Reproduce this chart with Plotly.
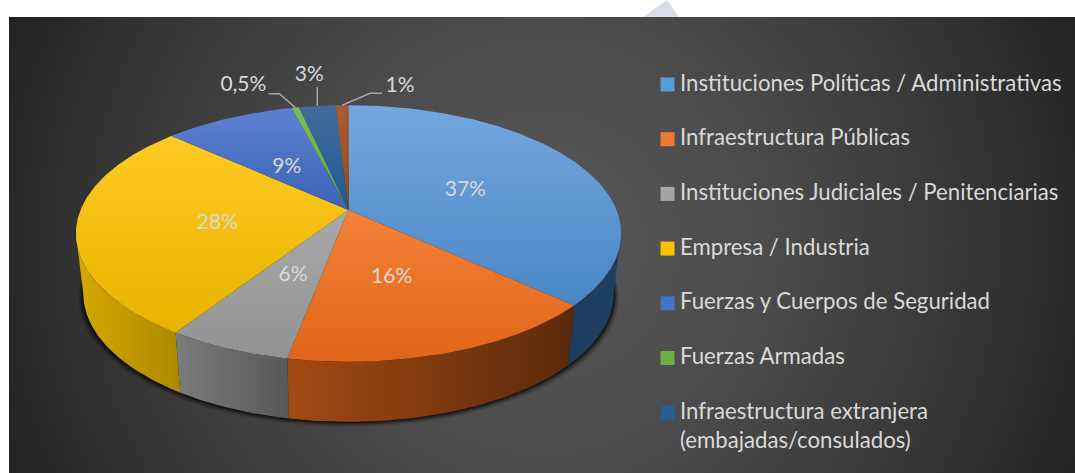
import numpy as np
import plotly.graph_objects as go

categories = ["Instituciones Políticas / Administrativas", "Infraestructura Públicas",
              "Instituciones Judiciales / Penitenciarias", "Empresa / Industria",
              "Fuerzas y Cuerpos de Seguridad", "Fuerzas Armadas",
              "Infraestructura extranjera<br>(embajadas/consulados)"]
values = [36.8, 16.2, 6.2, 27.5, 9.3, 0.5, 2.6, 0.9]
value_labels = ["37%", "16%", "6%", "28%", "9%", "0,5%", "3%", "1%"]

top_colors = [("#74a7de", "#4a87c6"), ("#f58238", "#df6518"), ("#a9a9a9", "#929292"),
              ("#ffca22", "#e6b400"), ("#5d80d2", "#3a63b6"), ("#7dbb57", "#69a83f"),
              ("#436c9c", "#1c5a94"), ("#a65c3c", "#9c470d")]
side_colors = [("#1d3d5e", "#1f3f60"), ("#a34a12", "#5a2a0c"), ("#7c7c7c", "#585858"),
               ("#d6a900", "#ab8800")]
swatch_colors = ["#5b9bd5", "#ed7d31", "#a5a5a5", "#ffc000", "#4472c4", "#70ad47", "#255e91"]

# projected pie geometry (pixels in the 1075x473 frame)
CX, APEX_Y, RX, RY, K, DEPTH, BOTTOM_SCALE = 348.5, 210.0, 268.0, 124.0, 0.183, 60.0, 0.973


def project(theta):
    """theta: clockwise radians from the back of the pie."""
    u, v = np.sin(theta), np.cos(theta)
    s = 1 / (1 + K * v)
    return CX + RX * u * s, APEX_Y - RY * v * s


def project_bottom(theta, grow=0.0):
    x, y = project(theta)
    return CX + (x - CX) * (BOTTOM_SCALE + grow / 270), y + DEPTH + grow


total = sum(values)
edges = np.cumsum([0] + values) / total * 2 * np.pi
mids = (edges[:-1] + edges[1:]) / 2

fig = go.Figure()

# page background: dark radial wash
gx = np.arange(12, 1082, 6)
gy = np.arange(20, 482, 6)
xx, yy = np.meshgrid(gx, gy)
fig.add_trace(go.Heatmap(x=gx, y=gy, z=np.hypot(xx - 542, yy - 245), zsmooth="best", zmin=0, zmax=590,
                         colorscale=[[0, "#595959"], [0.4, "#4a4a4a"], [0.7, "#383838"], [1, "#212121"]],
                         showscale=False, hoverinfo="skip"))
# faint shape poking out above the panel
fig.add_trace(go.Scatter(x=[643, 667, 679, 643], y=[17, 0, 17, 17], fill="toself", mode="none",
                         fillcolor="#dadde9", hoverinfo="skip", showlegend=False))

# drop shadow under the body
tt = np.linspace(0, 2 * np.pi, 240)
for grow, alpha in [(5, 0.12), (3.5, 0.2), (2.2, 0.3), (1.0, 0.4)]:
    sx, sy = project_bottom(tt, grow)
    fig.add_trace(go.Scatter(x=sx, y=sy, fill="toself", mode="none", fillcolor=f"rgba(0,0,0,{alpha})",
                             hoverinfo="skip", showlegend=False))

# visible outer wall of each front slice
vis_lo, vis_hi = np.pi - np.arccos(K), np.pi + np.arccos(K)
for i, cols in enumerate(side_colors):
    a, b = max(edges[i], vis_lo), min(edges[i + 1], vis_hi)
    t = np.linspace(a, b, 80)
    x1, y1 = project(t)
    x2, y2 = project_bottom(t[::-1])
    xs = np.r_[x1, x2, x1[0]]
    ys = np.r_[y1, y2, y1[0]]
    fig.add_trace(go.Scatter(x=xs, y=ys, fill="toself", mode="lines", line=dict(width=0),
                             fillgradient=dict(type="horizontal", colorscale=[[0, cols[0]], [1, cols[1]]]),
                             hoverinfo="skip", showlegend=False))

# top faces (the y axis runs downward, so the gradient's first stop is the lower edge)
for i, cols in enumerate(top_colors):
    t = np.linspace(edges[i], edges[i + 1], max(6, int(values[i] * 8)))
    x, y = project(t)
    xs = np.r_[CX, x, CX]
    ys = np.r_[APEX_Y, y, APEX_Y]
    fig.add_trace(go.Scatter(x=xs, y=ys, fill="toself", mode="lines", line=dict(width=0),
                             fillgradient=dict(type="vertical", colorscale=[[0, cols[1]], [1, cols[0]]]),
                             hovertext=value_labels[i], hoverinfo="text", showlegend=False))

# inside labels: fraction of the radius along the mid-angle, plus a small nudge
label_font = dict(family="Lato, Carlito, sans-serif", size=21, color="#d9d9d9")
inner_place = {0: (0.52, -6, 6), 1: (0.50, -3, 3), 2: (0.53, 3, -1), 3: (0.48, -2, 6), 4: (0.42, -7, 0)}
for i, (r, nx, ny) in inner_place.items():
    t = mids[i]
    u, v = np.sin(t) * r, np.cos(t) * r
    s = 1 / (1 + K * v)
    fig.add_trace(go.Scatter(x=[CX + RX * u * s + nx], y=[APEX_Y - RY * v * s + ny], mode="text",
                             text=[value_labels[i]], textposition="middle center", textfont=label_font,
                             hoverinfo="skip", showlegend=False))

# outside labels with leader lines: elbow, line end and label offsets from the rim point
outer = {5: ((-16, -14), (-27, -14), (-52, -22)),
         6: ((0, -19), (0, -19), (-8, -30)),
         7: ((28, -12), (40, -12), (58, -18))}
for i, (elbow, end, lab) in outer.items():
    rx0, ry0 = project(mids[i])
    fig.add_trace(go.Scatter(x=[rx0, rx0 + elbow[0], rx0 + end[0]], y=[ry0, ry0 + elbow[1], ry0 + end[1]],
                             mode="lines", line=dict(color="#a6a6a6", width=1.5),
                             hoverinfo="skip", showlegend=False))
    fig.add_trace(go.Scatter(x=[rx0 + lab[0]], y=[ry0 + lab[1]], mode="text", text=[value_labels[i]],
                             textposition="middle center", textfont=label_font,
                             hoverinfo="skip", showlegend=False))

# legend column
for i, name in enumerate(categories):
    ly = 84.5 + 54.7 * i
    fig.add_trace(go.Scatter(x=[667.5], y=[ly], mode="markers",
                             marker=dict(symbol="square", size=14, color=swatch_colors[i], line=dict(width=0)),
                             hoverinfo="skip", showlegend=False))
    two_line = "<br>" in name
    fig.add_trace(go.Scatter(x=[680], y=[ly + (15 if two_line else 0.5)], mode="text", text=[name],
                             textposition="middle right",
                             textfont=dict(family="Lato, Carlito, sans-serif", size=22.2, color="#d9d9d9"),
                             hoverinfo="skip", showlegend=False))

fig.update_layout(width=1075, height=473, margin=dict(l=0, r=0, t=0, b=0),
                  paper_bgcolor="white", plot_bgcolor="white", showlegend=False,
                  xaxis=dict(range=[0, 1075], visible=False, fixedrange=True),
                  yaxis=dict(range=[473, 0], visible=False, fixedrange=True))
fig.write_html("out.html", config=dict(displayModeBar=False),
               post_script="document.body.style.margin='0';document.documentElement.style.overflow='hidden';")
